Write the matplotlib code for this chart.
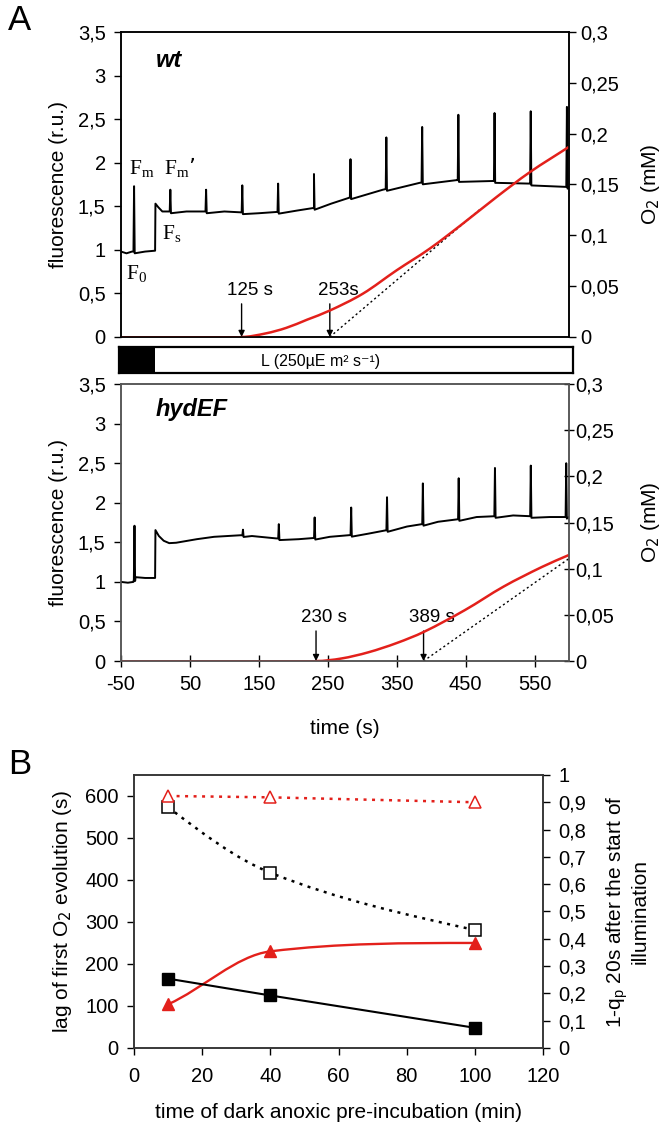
import numpy as np
import matplotlib
matplotlib.use('Agg')
import matplotlib.pyplot as plt
from matplotlib.path import Path
from matplotlib.patches import PathPatch

plt.rcParams['font.family'] = ['Liberation Sans', 'DejaVu Sans']

# ---------------- data: panel A ----------------
# fluorescence baseline (time s, r.u.) and saturating-pulse spikes (time s, peak r.u.)
wt_base_t = [-50, -42, -34, -15, -0.5, 0, 4, 10, 45, 100, 150, 205, 230, 255, 282, 330, 384, 437, 490, 543, 600]
wt_base_f = [0.98, 0.96, 0.98, 0.98, 0.99, 1.53, 1.49, 1.44, 1.44, 1.44, 1.42, 1.45, 1.48, 1.53, 1.60, 1.69, 1.77, 1.80, 1.79, 1.76, 1.72]
wt_spike_t = [-31, 21.6, 73.5, 126, 178, 230, 283, 335, 387, 439.5, 492, 544.5, 597]
wt_spike_f = [1.73, 1.69, 1.69, 1.74, 1.76, 1.87, 2.04, 2.29, 2.41, 2.55, 2.57, 2.59, 2.64]

hyd_base_t = [-50, -40, -32, -29, -15, -0.5, 0, 5, 12, 20, 30, 60, 85, 124, 140, 175, 208, 253, 309, 365, 410, 466, 519, 572, 600]
hyd_base_f = [1.00, 0.99, 1.00, 1.06, 1.05, 1.05, 1.655, 1.58, 1.52, 1.49, 1.495, 1.54, 1.57, 1.59, 1.58, 1.55, 1.54, 1.57, 1.61, 1.70, 1.76, 1.82, 1.84, 1.82, 1.82]
hyd_spike_t = [-30.4, 127, 179, 231, 284, 336, 388, 440, 492.6, 544.6, 596]
hyd_spike_f = [1.71, 1.66, 1.73, 1.815, 1.94, 2.07, 2.245, 2.31, 2.44, 2.47, 2.50]

# O2 concentration (mM); first point = start of O2 evolution
wt_o2_t = [125, 160, 190, 220, 253, 301, 350, 398, 446, 495, 543, 600]
wt_o2 = [0, 0.0035, 0.009, 0.017, 0.026, 0.0426, 0.0656, 0.0869, 0.1115, 0.1377, 0.162, 0.187]
hyd_o2_t = [233, 270, 309, 350, 390, 449, 505, 561, 600]
hyd_o2 = [0, 0.0028, 0.0095, 0.0195, 0.0318, 0.0552, 0.0806, 0.102, 0.1149]

# tangents (dotted) and lag markers
wt_tan_t = [253, 470]
wt_tan_o2 = [0, 0.125]
hyd_tan_t = [389, 600]
hyd_tan_o2 = [0, 0.111]
wt_lags = [125, 253]
wt_lag_labels = ['125 s', '253s']
hyd_lags = [233, 389]
hyd_lag_labels = ['230 s', '389 s']

fl_ticks = [0, 0.5, 1, 1.5, 2, 2.5, 3, 3.5]
fl_labels = ['0', '0,5', '1', '1,5', '2', '2,5', '3', '3,5']
o2_ticks = [0, 0.05, 0.1, 0.15, 0.2, 0.25, 0.3]
o2_labels = ['0', '0,05', '0,1', '0,15', '0,2', '0,25', '0,3']
time_ticks = [-50, 50, 150, 250, 350, 450, 550]

# ---------------- data: panel B ----------------
dark_min = [10, 40, 100]
lag_wt = [165, 125, 48]
lag_hyd = [104, 230, 250]
qp_wt = [0.882, 0.642, 0.432]
qp_hyd = [0.923, 0.918, 0.900]
b_left_ticks = [0, 100, 200, 300, 400, 500, 600]
b_right_ticks = [0, 0.1, 0.2, 0.3, 0.4, 0.5, 0.6, 0.7, 0.8, 0.9, 1]
b_right_labels = ['0', '0,1', '0,2', '0,3', '0,4', '0,5', '0,6', '0,7', '0,8', '0,9', '1']
b_x_ticks = [0, 20, 40, 60, 80, 100, 120]

RED = '#e3201b'
TICK_FS = 14.5
LABEL_FS = 15


def trace(base_t, base_f, spike_t, spike_f):
    t = list(base_t)
    f = list(base_f)
    for st, sf in zip(spike_t, spike_f):
        foot = float(np.interp(st, base_t, base_f))
        t += [st - 0.9, st, st + 0.9]
        f += [foot, sf, foot - 0.02]
    order = np.argsort(t, kind='stable')
    return np.array(t)[order], np.array(f)[order]


def smooth_path(xs, ys, slopes=None):
    # cubic Bezier through the points (Excel-like smoothed line)
    xs = np.asarray(xs, float)
    ys = np.asarray(ys, float)
    if slopes is None:
        slopes = np.empty(len(xs))
        slopes[0] = 0.0
        slopes[1:-1] = (ys[2:] - ys[:-2]) / (xs[2:] - xs[:-2])
        slopes[-1] = (ys[-1] - ys[-2]) / (xs[-1] - xs[-2])
    verts = [(xs[0], ys[0])]
    codes = [Path.MOVETO]
    for i in range(len(xs) - 1):
        dx = (xs[i + 1] - xs[i]) / 3.0
        verts += [(xs[i] + dx, ys[i] + slopes[i] * dx),
                  (xs[i + 1] - dx, ys[i + 1] - slopes[i + 1] * dx),
                  (xs[i + 1], ys[i + 1])]
        codes += [Path.CURVE4] * 3
    return Path(verts, codes)


fig = plt.figure(figsize=(6.64, 11.3), dpi=100)

ax_wt = fig.add_axes([0.1822, 0.7018, 0.6747, 0.2699])
ax_bar = fig.add_axes([0.1792, 0.6699, 0.6837, 0.023])
ax_hyd = fig.add_axes([0.1822, 0.4150, 0.6747, 0.2451])
ax_b = fig.add_axes([0.2018, 0.0726, 0.6160, 0.2416])

panels = [
    (ax_wt, 'wt', wt_base_t, wt_base_f, wt_spike_t, wt_spike_f, wt_o2_t, wt_o2,
     wt_tan_t, wt_tan_o2, wt_lags, wt_lag_labels, 'k', 'out'),
    (ax_hyd, 'hydEF', hyd_base_t, hyd_base_f, hyd_spike_t, hyd_spike_f, hyd_o2_t, hyd_o2,
     hyd_tan_t, hyd_tan_o2, hyd_lags, hyd_lag_labels, '#555555', 'inout'),
]

for (ax, name, bt, bf, stt, sff, ot, oo, tt, to, lags, lag_lab, spc, rdir) in panels:
    tt_f, ff = trace(bt, bf, stt, sff)
    ax.plot(tt_f, ff, color='k', lw=1.4, zorder=3)
    ax.set_xlim(-50, 600)
    ax.set_ylim(0, 3.5)
    ax.set_yticks(fl_ticks)
    ax.set_yticklabels(fl_labels, fontsize=TICK_FS)
    ax.set_ylabel('fluorescence (r.u.)', fontsize=LABEL_FS)
    ax.yaxis.set_label_coords(-0.118, 0.5)
    ax.tick_params(axis='y', direction='out', length=5, width=1, pad=6)
    ax.text(0, 3.1, name, fontsize=17, fontweight='bold', fontstyle='italic')
    for lag, lab in zip(lags, lag_lab):
        ax.annotate('', xy=(lag, 0), xytext=(lag, 0.38),
                    arrowprops=dict(arrowstyle='-|>', color='k', lw=1, mutation_scale=9,
                                    shrinkA=0, shrinkB=0))
        ax.text(lag + 12, 0.44, lab, fontsize=13.5, ha='center', va='bottom')
    for s in ax.spines.values():
        s.set_color(spc)
        s.set_linewidth(1.1)

    ax2 = ax.twinx()
    ax2.plot([-50, ot[0]], [0, 0], color=RED, lw=1.8, zorder=2)
    ax2.add_patch(PathPatch(smooth_path(ot, oo), facecolor='none', edgecolor=RED,
                            lw=1.8, zorder=2))
    ax2.plot(tt, to, color='k', lw=1, linestyle=(0, (1.5, 2)), zorder=1)
    ax2.set_ylim(0, 0.3)
    ax2.set_yticks(o2_ticks)
    ax2.set_yticklabels(o2_labels, fontsize=TICK_FS)
    ax2.tick_params(axis='y', direction=rdir, length=7 if rdir == 'inout' else 5,
                    width=1, pad=3 if rdir == 'out' else 1)
    ax2.set_ylabel('O$_2$ (mM)', fontsize=LABEL_FS)
    ax2.yaxis.set_label_coords(1.156, 0.5)
    for s in ax2.spines.values():
        s.set_color(spc)
        s.set_linewidth(1.1)

ax_wt.set_xticks([])

serif = ['Liberation Serif', 'DejaVu Serif']
ax_wt.text(-38, 1.86, 'F$_\\mathregular{m}$', fontsize=15.5, family=serif)
ax_wt.text(12, 1.86, 'F$_\\mathregular{m}$\u2019', fontsize=15.5, family=serif)
ax_wt.text(9, 1.12, 'F$_\\mathregular{s}$', fontsize=15.5, family=serif)
ax_wt.text(-43, 0.66, 'F$_\\mathregular{0}$', fontsize=15.5, family=serif)

ax_hyd.set_xticks(time_ticks)
ax_hyd.set_xticklabels([str(v) for v in time_ticks], fontsize=TICK_FS)
ax_hyd.tick_params(axis='x', direction='inout', length=8, width=1, pad=6)
ax_hyd.set_xlabel('time (s)', fontsize=LABEL_FS)
ax_hyd.xaxis.set_label_coords(0.5, -0.21)

# light bar
ax_bar.set_xlim(-53, 606)
ax_bar.set_ylim(0, 1)
ax_bar.barh(0.5, 53, left=-53, height=1, color='k')
ax_bar.text(240, 0.45, 'L (250µE m² s\u207b\u00b9)', fontsize=11.5, ha='center', va='center')
ax_bar.set_xticks([])
ax_bar.set_yticks([])
for s in ax_bar.spines.values():
    s.set_linewidth(1.6)

# ---------------- panel B ----------------
ax_b.set_xlim(0, 120)
ax_b.set_ylim(0, 650)
ax_b.plot(dark_min, lag_wt, color='k', lw=1.5, marker='s', ms=8.5, zorder=4)
ax_b.add_patch(PathPatch(smooth_path(dark_min, lag_hyd, [3.6, 1.0, 0.0]),
                         facecolor='none', edgecolor=RED, lw=1.7, zorder=3))
ax_b.plot(dark_min, lag_hyd, linestyle='none', color=RED, marker='^', ms=8.5, zorder=5)
ax_b.set_xticks(b_x_ticks)
ax_b.set_xticklabels([str(v) for v in b_x_ticks], fontsize=TICK_FS)
ax_b.set_yticks(b_left_ticks)
ax_b.set_yticklabels([str(v) for v in b_left_ticks], fontsize=TICK_FS)
ax_b.tick_params(direction='out', length=5, width=1, pad=6)
ax_b.tick_params(axis='x', pad=9)
ax_b.set_xlabel('time of dark anoxic pre-incubation (min)', fontsize=LABEL_FS)
ax_b.xaxis.set_label_coords(0.5, -0.2)
ax_b.set_ylabel('lag of first O$_2$ evolution (s)', fontsize=LABEL_FS)
ax_b.yaxis.set_label_coords(-0.147, 0.5)

ax_b2 = ax_b.twinx()
ax_b2.set_ylim(0, 1)
ax_b2.add_patch(PathPatch(smooth_path(dark_min, qp_wt, [-0.0095, -0.005, -0.0028]),
                          facecolor='none', edgecolor='k', lw=1.8,
                          linestyle=(0, (1.2, 2.2)), zorder=2))
ax_b2.plot(dark_min, qp_wt, linestyle='none', marker='s', ms=8, color='k',
           markerfacecolor='white', markeredgewidth=1.1, zorder=4)
ax_b2.plot(dark_min, qp_hyd, color=RED, lw=1.8, linestyle=(0, (1.2, 2.2)),
           marker='^', ms=9, markerfacecolor='white', markeredgewidth=1.1, zorder=4)
ax_b2.set_yticks(b_right_ticks)
ax_b2.set_yticklabels(b_right_labels, fontsize=TICK_FS)
ax_b2.tick_params(direction='out', length=5, width=1, pad=6)
ax_b2.set_ylabel('1-q$_\\mathregular{p}$ 20s after the start of\nillumination',
                 fontsize=LABEL_FS, linespacing=1.05)
ax_b2.yaxis.set_label_coords(1.149, 0.5)
for s in list(ax_b.spines.values()) + list(ax_b2.spines.values()):
    s.set_linewidth(1.1)
    s.set_color('#333333')

fig.text(0.012, 1 - 20 / 1130, 'A', fontsize=25, va='center')
fig.text(0.012, 1 - 765 / 1130, 'B', fontsize=25, va='center')

fig.savefig('out.png', dpi=100)
